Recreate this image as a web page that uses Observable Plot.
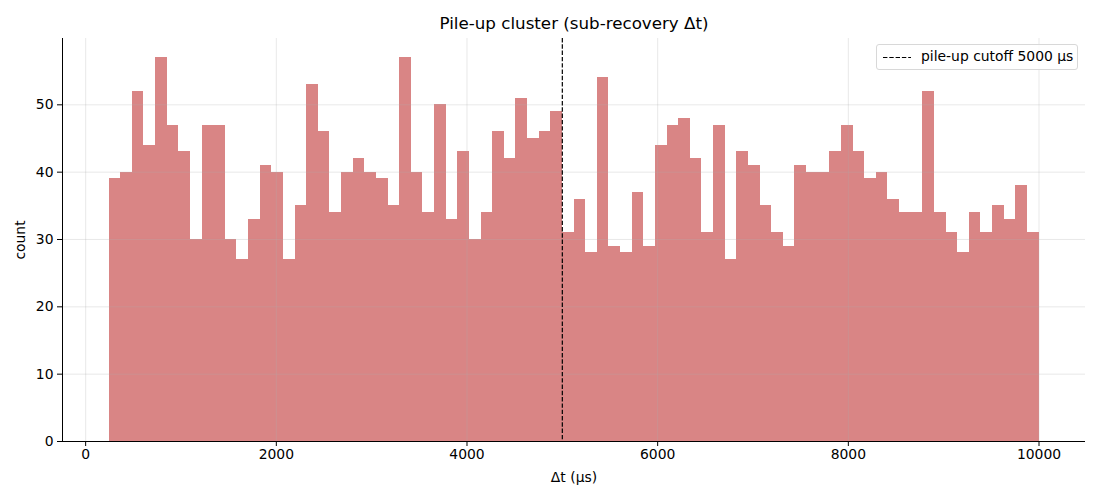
<!DOCTYPE html>
<html>
<head>
<meta charset="utf-8">
<script src="https://cdn.jsdelivr.net/npm/d3@7"></script>
<script src="https://cdn.jsdelivr.net/npm/@observablehq/plot@0.6"></script>
<style>
  body { margin: 0; background: #fff; font-family: "DejaVu Sans", sans-serif; }
  #wrap { position: relative; width: 1100px; height: 500px; }
  #legend { position: absolute; left: 876px; top: 44px; width: 200px; height: 24px;
    border: 1px solid #d8d8d8; border-radius: 3px; background: rgba(255,255,255,0.8);
    font-size: 13.9px; color: #000; box-sizing: content-box; }
  #legend svg { position: absolute; left: 6px; top: 11px; }
  #legend span { position: absolute; left: 44px; top: 3px; white-space: nowrap; }
</style>
</head>
<body>
<div id="wrap"><div id="chart"></div>
<div id="legend"><svg width="30" height="3"><line x1="0" y1="1.5" x2="28" y2="1.5" stroke="#000" stroke-width="1.2" stroke-dasharray="4.4,1.9"/></svg><span>pile-up cutoff 5000 µs</span></div>
</div>
<script>
const title = "Pile-up cluster (sub-recovery Δt)";
const xLabel = "Δt (µs)";
const yLabel = "count";
const binStart = 245;
const binEnd = 10000;
const counts = [39,40,52,44,57,47,43,30,47,47,30,27,33,41,40,27,35,53,46,34,
                40,42,40,39,35,57,40,34,50,33,43,30,34,46,42,51,45,46,49,31,
                36,28,54,29,28,37,29,44,47,48,42,31,47,27,43,41,35,31,29,41,
                40,40,43,47,43,39,40,36,34,34,52,34,31,28,34,31,35,33,38,31];
const cutoff = 5000;
const xTicks = [0,2000,4000,6000,8000,10000];
const yTicks = [0,10,20,30,40,50];

const w = (binEnd - binStart) / counts.length;
const bins = counts.map((c, i) => ({x1: binStart + i * w, x2: binStart + (i + 1) * w, count: c}));
const span = binEnd - binStart;
const yMax = d3.max(counts) * 1.05;

const chart = Plot.plot({
  width: 1100,
  height: 500,
  marginLeft: 62,
  marginRight: 15,
  marginTop: 38,
  marginBottom: 59,
  style: {fontFamily: "DejaVu Sans, sans-serif", fontSize: "13.9px", color: "#000", background: "#fff"},
  x: {domain: [binStart - 0.05 * span, binEnd + 0.05 * span]},
  y: {domain: [0, yMax]},
  marks: [
    Plot.rectY(bins, {x1: "x1", x2: "x2", y: "count", fill: "#d98585", inset: 0, shapeRendering: "crispEdges"}),
    Plot.gridX(xTicks, {stroke: "#b0b0b0", strokeOpacity: 0.35, strokeWidth: 0.8}),
    Plot.gridY(yTicks, {stroke: "#b0b0b0", strokeOpacity: 0.35, strokeWidth: 0.8}),
    Plot.ruleX([cutoff], {stroke: "#000", strokeWidth: 1.2, strokeDasharray: "4.4,1.9"}),
    Plot.axisX({ticks: xTicks, tickFormat: d => String(d), tickSize: 5, tickPadding: 3,
      label: xLabel, labelAnchor: "center", labelArrow: "none", labelOffset: 40, fontSize: 13.9}),
    Plot.axisY({ticks: yTicks, tickFormat: d => String(d), tickSize: 5, tickPadding: 4,
      label: yLabel, labelAnchor: "center", labelArrow: "none", labelOffset: 47, fontSize: 13.9}),
    Plot.ruleX([binStart - 0.05 * span], {stroke: "#000", strokeWidth: 1}),
    Plot.ruleY([0], {stroke: "#000", strokeWidth: 1}),
    Plot.text([title], {frameAnchor: "top", dy: -21, fontSize: 16.7, fill: "#000"})
  ]
});
document.getElementById("chart").appendChild(chart);
</script>
</body>
</html>
